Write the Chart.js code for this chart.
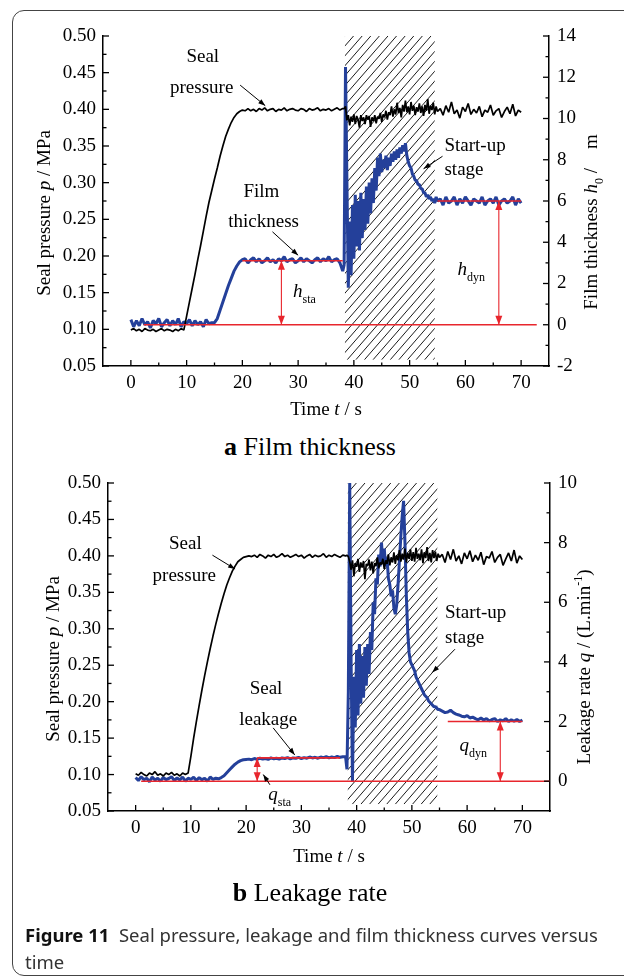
<!DOCTYPE html>
<html>
<head>
<meta charset="utf-8">
<script src="https://cdn.jsdelivr.net/npm/chart.js@4.4.1/dist/chart.umd.min.js"></script>
<style>
  html, body { margin: 0; padding: 0; background: #fff; }
  body { width: 624px; height: 979px; position: relative; overflow: hidden; }
  .frame { position: absolute; left: 12px; top: 10px; width: 700px; height: 966px;
           border: 1px solid #444; border-radius: 12px; box-sizing: border-box; }
  canvas { position: absolute; left: 0; }
  #chartA { top: 0; }
  #chartB { top: 455px; }
  .sub { position: absolute; left: 0; width: 620px; text-align: center; line-height: 30px;
         font-family: "Liberation Serif", serif; font-size: 26px; color: #000; }
  .caption { position: absolute; left: 25px; top: 921px; width: 585px;
             font-family: "Noto Sans", sans-serif; font-size: 18.5px; line-height: 27px; color: #333; }
  .caption b { color: #111; }
</style>
</head>
<body>
<div class="frame"></div>
<canvas id="chartA" width="624" height="430"></canvas>
<div class="sub" style="top:432px"><b>a</b> Film thickness</div>
<canvas id="chartB" width="624" height="425"></canvas>
<div class="sub" style="top:878px"><b>b</b> Leakage rate</div>
<div class="caption"><b>Figure 11</b>&nbsp;&nbsp;Seal pressure, leakage and film thickness curves versus time</div>

<script>
// sample times (s): 0.5 s steps, 0.25 s steps inside the start-up window
const timeA = [];
for (let t = 0; t <= 38; t += 0.5) timeA.push(t);
for (let t = 38.25; t <= 55; t += 0.25) timeA.push(t);
for (let t = 55.5; t <= 70; t += 0.5) timeA.push(t);

// tick labels
const xTicks = [0, 10, 20, 30, 40, 50, 60, 70];
const pressureTicks = [0.05, 0.10, 0.15, 0.20, 0.25, 0.30, 0.35, 0.40, 0.45, 0.50];
const filmTicks = [-2, 0, 2, 4, 6, 8, 10, 12, 14];
const leakTicks = [0, 2, 4, 6, 8, 10];

// chart a: seal pressure p (MPa)
const pressureA = [
  0.099, 0.101, 0.098, 0.100, 0.097, 0.101, 0.099, 0.098, 0.100, 0.097,
  0.099, 0.101, 0.098, 0.100, 0.099, 0.097, 0.100, 0.098, 0.101, 0.099,
  0.118, 0.137, 0.156, 0.175, 0.195, 0.214, 0.234, 0.254, 0.273, 0.289, 0.305,
  0.320, 0.336, 0.350, 0.363, 0.373, 0.382, 0.389, 0.394, 0.397, 0.399, 0.398,
  0.401, 0.398, 0.400, 0.397, 0.401, 0.399, 0.402, 0.398, 0.400, 0.401,
  0.397, 0.400, 0.399, 0.402, 0.398, 0.400, 0.401, 0.399, 0.398, 0.401,
  0.400, 0.397, 0.401, 0.399, 0.400, 0.402, 0.398, 0.400, 0.399, 0.401,
  0.398, 0.400, 0.402, 0.399, 0.401,
  // start-up window 38.25 .. 55
  0.401, 0.404, 0.385, 0.392, 0.378, 0.390, 0.383, 0.393,
  0.380, 0.391, 0.386, 0.375, 0.392, 0.384, 0.389, 0.380,
  0.392, 0.386, 0.391, 0.376, 0.389, 0.384, 0.392, 0.381,
  0.390, 0.387, 0.395, 0.383, 0.393, 0.389, 0.398, 0.386,
  0.396, 0.392, 0.404, 0.390, 0.400, 0.393, 0.409, 0.395,
  0.402, 0.389, 0.406, 0.397, 0.412, 0.396, 0.404, 0.393,
  0.410, 0.398, 0.405, 0.392, 0.403, 0.397, 0.408, 0.395,
  0.404, 0.391, 0.406, 0.398, 0.414, 0.394, 0.405, 0.399,
  0.409, 0.393, 0.404, 0.397,
  // 55.5 .. 70
  0.401, 0.392, 0.405, 0.396, 0.410, 0.394, 0.399, 0.388, 0.403, 0.397,
  0.408, 0.393, 0.400, 0.395, 0.404, 0.390, 0.399, 0.396, 0.406, 0.392,
  0.398, 0.401, 0.389, 0.397, 0.403, 0.394, 0.407, 0.391, 0.399, 0.396
];

// chart a: film thickness h0 (um)
const filmA = [
  0.25, -0.1, 0.2, -0.05, 0.3, 0.0, 0.15, -0.15, 0.2, 0.05,
  0.3, -0.1, 0.1, 0.25, -0.05, 0.2, 0.0, 0.3, -0.1, 0.15,
  0.05, 0.25, -0.05, 0.2, 0.0, 0.15, -0.1, 0.25, 0.05, 0.1,
  0.1, 0.3, 0.7, 1.1, 1.5, 1.9, 2.25, 2.6, 2.85, 3.05, 3.15,
  3.2, 3.0, 3.15, 3.25, 3.05, 3.2, 3.0, 3.1, 3.25, 3.05,
  3.15, 3.0, 3.2, 3.1, 3.3, 3.05, 3.15, 3.2, 3.0, 3.1,
  3.25, 3.05, 3.2, 3.1, 3.0, 3.15, 3.25, 3.05, 3.2, 3.1,
  3.3, 3.05, 3.15, 3.2, 3.0,
  2.6,
  // start-up window 38.25 .. 55
  2.9, 12.5, 7.0, 1.8, 5.0, 2.4, 5.8, 3.2,
  6.3, 3.8, 6.0, 3.6, 6.4, 4.2, 6.1, 4.6,
  6.7, 4.9, 6.9, 5.4, 7.1, 5.9, 7.6, 6.5,
  8.1, 7.2, 8.3, 7.4, 8.0, 7.6, 8.2, 7.5,
  8.1, 7.7, 8.3, 7.9, 8.4, 8.0, 8.5, 8.1,
  8.6, 8.3, 8.7, 8.4, 8.8, 8.2, 7.9, 7.7,
  7.6, 7.3, 7.2, 7.0, 7.0, 6.8, 6.8, 6.6,
  6.6, 6.4, 6.4, 6.2, 6.3, 6.1, 6.2, 6.0,
  6.1, 5.9, 6.2, 6.0,
  // 55.5 .. 70
  6.1, 5.8, 6.2, 5.9, 6.0, 6.2, 5.8, 6.1, 5.9, 6.2,
  6.0, 5.8, 6.1, 6.0, 5.9, 6.2, 5.8, 6.0, 6.1, 5.9,
  6.2, 5.8, 6.0, 6.1, 5.9, 6.0, 6.2, 5.8, 6.1, 5.9
];

// chart b: seal pressure p (MPa)
const pressureB = [
  0.101, 0.099, 0.103, 0.100, 0.098, 0.102, 0.100, 0.104, 0.099, 0.101,
  0.098, 0.102, 0.100, 0.103, 0.099, 0.101, 0.098, 0.102, 0.100,
  0.102, 0.125, 0.150, 0.173, 0.195, 0.216, 0.236, 0.255, 0.273, 0.290, 0.306,
  0.321, 0.335, 0.348, 0.360, 0.370, 0.379, 0.386, 0.392, 0.395, 0.398, 0.399, 0.400,
  0.399, 0.401, 0.398, 0.402, 0.400, 0.397, 0.401, 0.399, 0.402, 0.398,
  0.400, 0.403, 0.399, 0.401, 0.398, 0.400, 0.402, 0.399, 0.401, 0.397,
  0.400, 0.402, 0.398, 0.401, 0.399, 0.400, 0.403, 0.398, 0.401, 0.399,
  0.402, 0.400, 0.398, 0.401, 0.400,
  // start-up window 38.25 .. 55
  0.401, 0.399, 0.392, 0.381, 0.394, 0.372, 0.390, 0.385,
  0.396, 0.378, 0.391, 0.384, 0.393, 0.368, 0.389, 0.386,
  0.395, 0.380, 0.392, 0.376, 0.390, 0.386, 0.398, 0.383,
  0.391, 0.388, 0.396, 0.382, 0.394, 0.389, 0.402, 0.387,
  0.398, 0.391, 0.405, 0.389, 0.401, 0.394, 0.408, 0.392,
  0.403, 0.395, 0.410, 0.391, 0.404, 0.396, 0.409, 0.393,
  0.405, 0.392, 0.411, 0.396, 0.403, 0.394, 0.409, 0.390,
  0.405, 0.397, 0.412, 0.393, 0.404, 0.391, 0.408, 0.397,
  0.406, 0.393, 0.403, 0.398,
  // 55.5 .. 70
  0.402, 0.391, 0.406, 0.395, 0.409, 0.393, 0.400, 0.389, 0.404, 0.396,
  0.407, 0.392, 0.401, 0.394, 0.405, 0.388, 0.399, 0.397, 0.406, 0.391,
  0.398, 0.402, 0.387, 0.396, 0.404, 0.393, 0.408, 0.390, 0.400, 0.395
];

// chart b: leakage rate q (L/min)
const leakB = [
  0.12, 0.02, 0.15, 0.05, 0.1, -0.02, 0.14, 0.04, 0.1, 0.0,
  0.13, 0.05, 0.09, 0.15, 0.02, 0.11, 0.04, 0.14, 0.0, 0.1,
  0.06, 0.13, 0.02, 0.12, 0.05, 0.1, 0.0, 0.14, 0.06, 0.1, 0.08,
  0.12, 0.18, 0.28, 0.38, 0.48, 0.57, 0.64, 0.69, 0.72, 0.73, 0.74,
  0.72, 0.76, 0.73, 0.77, 0.74, 0.76, 0.73, 0.78, 0.75, 0.77,
  0.74, 0.78, 0.76, 0.79, 0.75, 0.78, 0.77, 0.80, 0.76, 0.79,
  0.77, 0.81, 0.78, 0.80, 0.77, 0.81, 0.79, 0.82, 0.78, 0.81,
  0.79, 0.83, 0.80, 0.82,
  0.82,
  // start-up window 38.25 .. 55
  0.4, 3.0, 10.0, 4.0, 0.0, 3.5, 1.8, 4.4,
  2.2, 4.6, 2.6, 4.2, 2.8, 4.5, 3.2, 4.6,
  3.6, 5.0, 4.4, 6.0, 5.6, 6.8, 6.6, 7.6,
  7.2, 8.0, 7.3, 7.8, 7.2, 7.5, 6.8, 6.6,
  6.2, 6.4, 5.8, 5.6, 5.9, 6.6, 7.4, 8.2,
  8.9, 9.4, 8.0, 6.2, 5.0, 4.3, 4.0, 3.9,
  3.8, 3.7, 3.5, 3.4, 3.3, 3.2, 3.1, 3.0,
  2.9, 2.85, 2.8, 2.7, 2.65, 2.6, 2.55, 2.5,
  2.5, 2.45, 2.4, 2.4,
  // 55.5 .. 70
  2.35, 2.3, 2.32, 2.38, 2.3, 2.25, 2.22, 2.18, 2.16, 2.2,
  2.12, 2.15, 2.1, 2.06, 2.12, 2.05, 2.1, 2.02, 2.07, 2.1,
  2.0, 2.06, 2.02, 2.1, 2.0, 2.06, 2.01, 2.07, 2.0, 2.05
];

// red reference lines [t from, t to, level on the right axis]
const filmRefLines = [[2.3, 72.8, 0], [20, 38, 3.1], [55, 70, 6.0]];
const leakRefLines = [[1.0, 75, 0], [22, 37, 0.78], [56.5, 70, 2.0]];
// red double arrows [t, level]
const filmGaps = [[27, 3.1], [66, 6.0]];
const leakGaps = [[22, 0.78], [66, 2.0]];
// hatched start-up window [t from, t to]
const startupA = [38.4, 54.5];
const startupB = [38.4, 54.6];

const BLUE = "#24409a";
const RED = "#e8262d";
const SERIF = '"Liberation Serif", "Times New Roman", serif';

function pts(t, v) {
    return t.map((x, i) => ({ x: x, y: v[i] }));
}

// draws a row of text pieces (italic / sub / sup) centred or left aligned
function drawRich(ctx, parts, x, y, size, align, angle) {
    ctx.save();
    ctx.translate(x, y);
    if (angle) ctx.rotate(angle);
    let total = 0;
    const fonts = parts.map((p) => {
        const s = p.sub || p.sup ? Math.round(size * 0.62) : size;
        const f = (p.italic ? "italic " : "") + (p.bold ? "bold " : "") + s + "px " + SERIF;
        ctx.font = f;
        const w = ctx.measureText(p.t).width;
        total += w;
        return { f, w };
    });
    let cx = align === "center" ? -total / 2 : 0;
    ctx.textBaseline = "middle";
    ctx.textAlign = "left";
    ctx.fillStyle = "#000";
    parts.forEach((p, i) => {
        ctx.font = fonts[i].f;
        const dy = p.sub ? size * 0.4 : p.sup ? -size * 0.35 : 0;
        ctx.fillText(p.t, cx, dy);
        cx += fonts[i].w;
    });
    ctx.restore();
}

function arrowHead(ctx, x0, y0, x1, y1, len, half) {
    const a = Math.atan2(y1 - y0, x1 - x0);
    ctx.beginPath();
    ctx.moveTo(x1, y1);
    ctx.lineTo(x1 - len * Math.cos(a) + half * Math.sin(a), y1 - len * Math.sin(a) - half * Math.cos(a));
    ctx.lineTo(x1 - len * Math.cos(a) - half * Math.sin(a), y1 - len * Math.sin(a) + half * Math.cos(a));
    ctx.closePath();
    ctx.fill();
}

// hatch, arrows, notes, inward ticks and axis titles
const figurePlugin = {
    id: "figure",
    beforeDatasetsDraw(chart, args, o) {
        const { ctx, scales } = chart;
        const x0 = scales.x.getPixelForValue(o.hatch[0]);
        const x1 = scales.x.getPixelForValue(o.hatch[1]);
        const top = scales.y1.getPixelForValue(o.hatchTop);
        const bot = scales.y1.getPixelForValue(o.hatchBottom);
        ctx.save();
        ctx.beginPath();
        ctx.rect(x0, top, x1 - x0, bot - top);
        ctx.clip();
        ctx.strokeStyle = "#000";
        ctx.lineWidth = 0.9;
        const h = bot - top;
        const run = h / 1.15;
        for (let sx = x0 - run; sx < x1 + 2; sx += 8.6) {
            ctx.beginPath();
            ctx.moveTo(sx, bot);
            ctx.lineTo(sx + run, top);
            ctx.stroke();
        }
        ctx.restore();
    },
    afterDatasetsDraw(chart, args, o) {
        const { ctx, scales } = chart;
        ctx.save();
        // red double arrows
        ctx.fillStyle = RED;
        o.gaps.forEach(([t, lv]) => {
            const x = scales.x.getPixelForValue(t);
            const yb = scales.y1.getPixelForValue(0);
            const yt = scales.y1.getPixelForValue(lv);
            arrowHead(ctx, x, yb, x, yt, 9, 3.5);
            arrowHead(ctx, x, yt, x, yb, 9, 3.5);
        });
        // black pointer arrows
        ctx.strokeStyle = "#000";
        ctx.fillStyle = "#000";
        ctx.lineWidth = 1;
        o.pointers.forEach(([a, b]) => {
            const xa = scales.x.getPixelForValue(a[0]), ya = scales.y.getPixelForValue(a[1]);
            const xb = scales.x.getPixelForValue(b[0]), yb = scales.y.getPixelForValue(b[1]);
            ctx.beginPath();
            ctx.moveTo(xa, ya);
            ctx.lineTo(xb, yb);
            ctx.stroke();
            arrowHead(ctx, xa, ya, xb, yb, 7, 2.5);
        });
        ctx.restore();
        // text notes
        o.notes.forEach((n) => {
            drawRich(ctx, n.parts, scales.x.getPixelForValue(n.x), scales.y.getPixelForValue(n.y),
                19, n.align || "center", 0);
        });
    },
    afterDraw(chart, args, o) {
        const { ctx, scales, chartArea } = chart;
        ctx.save();
        ctx.strokeStyle = "#000";
        ctx.lineWidth = 1.3;
        const tick = (scale, vals, len) => {
            vals.forEach((v) => {
                const p = scale.getPixelForValue(v);
                ctx.beginPath();
                if (scale.id === "x") {
                    ctx.moveTo(p, chartArea.bottom);
                    ctx.lineTo(p, chartArea.bottom - len);
                } else if (scale.id === "y") {
                    ctx.moveTo(chartArea.left, p);
                    ctx.lineTo(chartArea.left + len, p);
                } else {
                    ctx.moveTo(chartArea.right, p);
                    ctx.lineTo(chartArea.right - len, p);
                }
                ctx.stroke();
            });
        };
        ["x", "y", "y1"].forEach((id) => {
            const s = scales[id];
            const major = s.ticks.map((t) => t.value);
            const minor = [];
            for (let i = 0; i < major.length - 1; i++) minor.push((major[i] + major[i + 1]) / 2);
            tick(s, major, 6);
            tick(s, minor, 3.5);
        });
        ctx.restore();
        const midY = (chartArea.top + chartArea.bottom) / 2;
        drawRich(ctx, o.leftTitle, chartArea.left - o.leftOff, midY + o.leftShift, 19, "center", -Math.PI / 2);
        drawRich(ctx, o.rightTitle, chartArea.right + o.rightOff, midY + o.rightShift, 19, "center", -Math.PI / 2);
        drawRich(ctx, [{ t: "Time " }, { t: "t", italic: true }, { t: " / s" }],
            (chartArea.left + chartArea.right) / 2, chartArea.bottom + o.xOff, 19, "center", 0);
    }
};

function makeChart(id, o) {
    const datasets = [];
    o.refLines.forEach(([t0, t1, lv]) => datasets.push({
        data: [{ x: t0, y: lv }, { x: t1, y: lv }], yAxisID: "y1",
        borderColor: RED, borderWidth: 1.6, order: 0
    }));
    o.gaps.forEach(([t, lv]) => datasets.push({
        data: [{ x: t, y: 0 }, { x: t, y: lv }], yAxisID: "y1",
        borderColor: RED, borderWidth: 1.1, order: 0
    }));
    datasets.push({ data: pts(timeA, o.pressure), yAxisID: "y", borderColor: "#000", borderWidth: 1.7, order: 1 });
    datasets.push({ data: pts(timeA, o.second), yAxisID: "y1", borderColor: BLUE, borderWidth: 3, order: 2 });

    const tickFont = { family: SERIF, size: 19 };
    return new Chart(document.getElementById(id), {
        type: "line",
        data: { datasets },
        options: {
            responsive: false,
            animation: false,
            devicePixelRatio: 1,
            layout: { padding: { top: o.padTop, left: 0, right: 0, bottom: 0 } },
            elements: {
                point: { radius: 0 },
                line: { tension: 0, fill: false, borderJoinStyle: "bevel" }
            },
            plugins: {
                legend: { display: false },
                tooltip: { enabled: false },
                figure: o.fig
            },
            scales: {
                x: {
                    type: "linear", min: -5, max: 75,
                    afterBuildTicks: (s) => { s.ticks = xTicks.map((v) => ({ value: v })); },
                    afterFit: (s) => { s.height = o.xHeight; },
                    ticks: { font: tickFont, color: "#000", padding: 6, maxRotation: 0, autoSkip: false },
                    grid: { display: false, drawTicks: false },
                    border: { display: true, color: "#000", width: 1.5 }
                },
                y: {
                    position: "left", min: 0.05, max: 0.5,
                    afterBuildTicks: (s) => { s.ticks = pressureTicks.map((v) => ({ value: v })); },
                    afterFit: (s) => { s.width = o.yWidth; },
                    ticks: { font: tickFont, color: "#000", padding: 7, callback: (v) => v.toFixed(2) },
                    grid: { display: false, drawTicks: false },
                    border: { display: true, color: "#000", width: 1.5 }
                },
                y1: {
                    position: "right", min: o.rightMin, max: o.rightMax,
                    afterBuildTicks: (s) => { s.ticks = o.rightTicks.map((v) => ({ value: v })); },
                    afterFit: (s) => { s.width = o.y1Width; },
                    ticks: { font: tickFont, color: "#000", padding: 8, callback: (v) => String(v) },
                    grid: { display: false, drawTicks: false },
                    border: { display: true, color: "#000", width: 1.5 }
                }
            }
        },
        plugins: [figurePlugin]
    });
}

document.addEventListener("DOMContentLoaded", () => {
    makeChart("chartA", {
        pressure: pressureA, second: filmA,
        refLines: filmRefLines, gaps: filmGaps,
        rightMin: -2, rightMax: 14, rightTicks: filmTicks,
        padTop: 36, xHeight: 64, yWidth: 103, y1Width: 75,
        fig: {
            hatch: startupA, hatchTop: 14, hatchBottom: -1.7,
            gaps: filmGaps,
            pointers: [[[19.6, 0.433], [24.1, 0.405]], [[25.4, 0.233], [30.0, 0.201]], [[55.9, 0.336], [52.5, 0.319]]],
            notes: [
                { x: 12.9, y: 0.471, parts: [{ t: "Seal" }] },
                { x: 12.7, y: 0.429, parts: [{ t: "pressure" }] },
                { x: 23.4, y: 0.287, parts: [{ t: "Film" }] },
                { x: 23.8, y: 0.246, parts: [{ t: "thickness" }] },
                { x: 29.1, y: 0.151, align: "left", parts: [{ t: "h", italic: true }, { t: "sta", sub: true }] },
                { x: 58.6, y: 0.181, align: "left", parts: [{ t: "h", italic: true }, { t: "dyn", sub: true }] },
                { x: 56.25, y: 0.350, align: "left", parts: [{ t: "Start-up" }] },
                { x: 56.25, y: 0.317, align: "left", parts: [{ t: "stage" }] }
            ],
            leftTitle: [{ t: "Seal pressure " }, { t: "p", italic: true }, { t: " / MPa" }],
            rightTitle: [{ t: "Film thickness " }, { t: "h", italic: true }, { t: "0", sub: true }, { t: " /    m" }],
            leftOff: 58, leftShift: 12, rightOff: 43, rightShift: 21, xOff: 44
        }
    });
    makeChart("chartB", {
        pressure: pressureB, second: leakB,
        refLines: leakRefLines, gaps: leakGaps,
        rightMin: -1, rightMax: 10, rightTicks: leakTicks,
        padTop: 28, xHeight: 69, yWidth: 108, y1Width: 74,
        fig: {
            hatch: startupB, hatchTop: 10, hatchBottom: -0.77,
            gaps: leakGaps,
            pointers: [[[13.9, 0.401], [18.0, 0.382]], [[24.9, 0.164], [28.8, 0.127]],
                       [[24.3, 0.086], [23.1, 0.100]], [[57.8, 0.272], [53.7, 0.240]]],
            notes: [
                { x: 9.0, y: 0.416, parts: [{ t: "Seal" }] },
                { x: 8.8, y: 0.372, parts: [{ t: "pressure" }] },
                { x: 23.6, y: 0.217, parts: [{ t: "Seal" }] },
                { x: 24.0, y: 0.175, parts: [{ t: "leakage" }] },
                { x: 24.0, y: 0.072, align: "left", parts: [{ t: "q", italic: true }, { t: "sta", sub: true }] },
                { x: 58.6, y: 0.139, align: "left", parts: [{ t: "q", italic: true }, { t: "dyn", sub: true }] },
                { x: 56.0, y: 0.322, align: "left", parts: [{ t: "Start-up" }] },
                { x: 56.0, y: 0.288, align: "left", parts: [{ t: "stage" }] }
            ],
            leftTitle: [{ t: "Seal pressure " }, { t: "p", italic: true }, { t: " / MPa" }],
            rightTitle: [{ t: "Leakage rate " }, { t: "q", italic: true }, { t: " / (L.min" }, { t: "-1", sup: true }, { t: ")" }],
            leftOff: 54, leftShift: 12, rightOff: 35, rightShift: 20, xOff: 46
        }
    });
});
</script>
</body>
</html>
